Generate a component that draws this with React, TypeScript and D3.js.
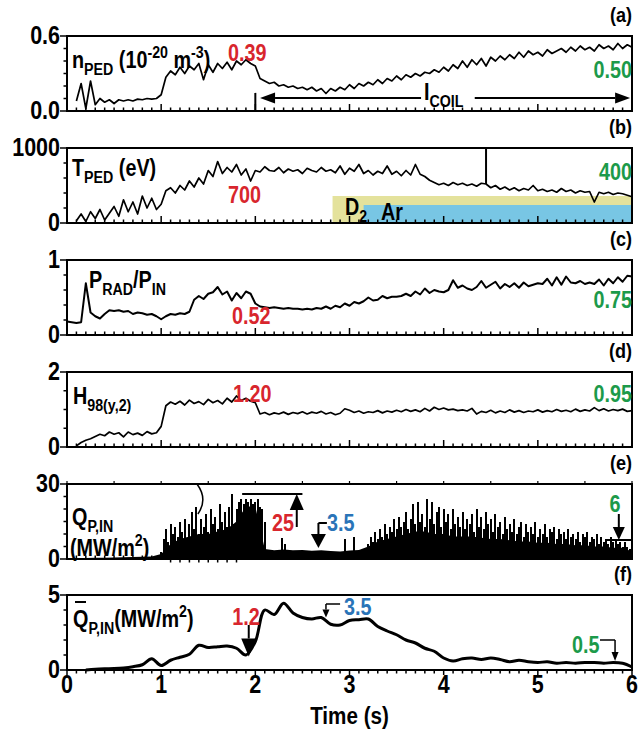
import React from "react";
import * as d3 from "d3";

// ---------------- DATA ----------------
const X_TICKS = [0, 1, 2, 3, 4, 5, 6];
const X_TICK_LABELS = ["0", "1", "2", "3", "4", "5", "6"];
const PANEL_TAGS = ["(a)", "(b)", "(c)", "(d)", "(e)", "(f)"];
const PANEL_Y_MAX = [0.6, 1000, 1, 2, 30, 5];
const PANEL_Y_MINOR = [0.1, 200, 0.2, 0.5, 5, 1];
const PANEL_Y_LABELS = [
  ["0.0", "0.6"],
  ["0", "1000"],
  ["0", "1"],
  ["0", "2"],
  ["0", "30"],
  ["0", "5"],
];

// (a) n_PED, t0 = 0.10, dt = 0.05
const N_PED_T0 = 0.1;
const N_PED_DT = 0.05;
const N_PED = [
  0.08, 0.22, 0.02, 0.24, 0.05, 0.1, 0.07, 0.09, 0.06, 0.09, 0.08, 0.09, 0.08, 0.095, 0.09, 0.1, 0.095, 0.1,
  0.13, 0.27, 0.32, 0.29, 0.35, 0.3, 0.36, 0.33, 0.38, 0.25, 0.37, 0.31, 0.38, 0.34, 0.39, 0.33, 0.4, 0.37, 0.41, 0.38,
  0.36, 0.26, 0.24, 0.22, 0.23, 0.2, 0.21, 0.19, 0.2, 0.18, 0.19, 0.17, 0.19, 0.16, 0.18, 0.14, 0.18, 0.16, 0.19, 0.17,
  0.21, 0.18, 0.22, 0.2, 0.23, 0.21, 0.25, 0.22, 0.26, 0.24, 0.28, 0.25, 0.29, 0.27, 0.3, 0.28, 0.31, 0.3, 0.33, 0.31,
  0.35, 0.32, 0.37, 0.34, 0.4, 0.35, 0.41, 0.37, 0.42, 0.36, 0.43, 0.4, 0.44, 0.41, 0.45, 0.42, 0.47, 0.43, 0.48, 0.45,
  0.47, 0.44, 0.49, 0.46, 0.48, 0.5, 0.47, 0.51, 0.48, 0.52, 0.49, 0.51, 0.48, 0.53, 0.5, 0.52, 0.49, 0.54, 0.5, 0.53,
  0.51,
];
const I_COIL_START = 2.0;
const I_COIL_END = 6.0;
const I_COIL_LEVEL = 0.105;

// (b) T_PED, t0 = 0.10, dt = 0.05
const T_PED_T0 = 0.1;
const T_PED_DT = 0.05;
const T_PED = [
  30, 120, 20, 150, 60, 180, 40, 130, 220, 90, 310, 150, 280, 120, 360, 200, 330, 180,
  250, 430, 470, 400, 500, 440, 560, 480, 600, 520, 700, 620, 820, 660, 740, 680, 780, 640, 720, 560,
  700, 680, 750, 700, 690, 740, 670, 720, 690, 710, 660, 730, 700, 680, 740, 690, 710, 670, 760, 650,
  730, 690, 780, 660, 700, 640, 690, 660, 760, 650, 690, 630, 700, 640, 780, 650, 620, 570, 540, 510,
  530, 500, 540, 510, 530, 500, 520, 490, 530, 520, 470, 500, 450, 480, 440, 470, 430, 460, 440, 500,
  430, 450, 420, 440, 410, 460, 420, 440, 400, 430, 410, 420, 280, 410, 390, 410, 380, 400, 390, 370,
  350,
];
const T_PED_SPIKE_T = 4.45;
const T_PED_SPIKE_V = 1000;
const D2_START = 2.82;
const D2_LEVEL = 360;
const AR_START = 3.15;
const AR_LEVEL = 240;

// (c) P_RAD / P_IN, t0 = 0, dt = 0.05
const PRAD_T0 = 0;
const PRAD_DT = 0.05;
const PRAD = [
  0.18, 0.17, 0.16, 0.17, 0.69, 0.3, 0.25, 0.22, 0.28, 0.33, 0.32, 0.33, 0.31, 0.32, 0.28, 0.3, 0.29, 0.27, 0.28, 0.25,
  0.21, 0.25, 0.28, 0.27, 0.29, 0.28, 0.31, 0.47, 0.52, 0.48, 0.55, 0.57, 0.64, 0.54, 0.58, 0.46, 0.56, 0.49, 0.58, 0.55,
  0.42, 0.38, 0.37, 0.36, 0.37, 0.36, 0.35, 0.36, 0.35, 0.35, 0.34, 0.35, 0.34, 0.36, 0.35, 0.38, 0.35, 0.39, 0.37, 0.42,
  0.39, 0.44, 0.42, 0.45, 0.5, 0.46, 0.47, 0.52, 0.49, 0.51, 0.51, 0.52, 0.55, 0.52, 0.58, 0.54, 0.62, 0.56, 0.6, 0.58,
  0.57, 0.6, 0.73, 0.63, 0.66, 0.62, 0.6, 0.64, 0.72, 0.63, 0.67, 0.71, 0.62, 0.68, 0.64, 0.69, 0.63, 0.7, 0.65, 0.67,
  0.69, 0.68, 0.75, 0.66, 0.77, 0.67, 0.78, 0.7, 0.69, 0.72, 0.68, 0.7, 0.68, 0.74, 0.66, 0.75, 0.69, 0.77, 0.71, 0.79,
  0.78,
];

// (d) H98(y,2), t0 = 0.10, dt = 0.05
const H98_T0 = 0.1;
const H98_DT = 0.05;
const H98 = [
  0.03, 0.12, 0.18, 0.22, 0.28, 0.34, 0.3, 0.4, 0.34, 0.38, 0.27, 0.4, 0.33, 0.37, 0.31, 0.41, 0.35, 0.38,
  0.55, 1.1, 1.2, 1.14, 1.22, 1.12, 1.25, 1.16, 1.21, 1.13, 1.27, 1.18, 1.24, 1.15, 1.3, 1.2, 1.36, 1.24, 1.3, 1.22,
  1.18, 0.88, 0.92, 0.86, 0.91, 0.88, 0.93, 0.87, 0.92, 0.89, 0.94, 0.88, 0.93, 0.9, 0.95, 0.88, 0.92, 0.86, 0.9, 1.02,
  0.98, 0.92, 0.96, 0.9, 0.94, 0.92, 0.97, 0.91, 0.96, 0.93, 0.98, 0.94, 1.0, 0.95, 0.99, 0.94, 1.03, 0.96, 1.06, 1.0,
  1.04, 0.99, 1.01, 0.97, 0.99, 0.96, 1.03, 0.88, 0.95, 0.92, 0.98, 0.91, 0.96, 0.92, 0.99, 0.93, 0.97, 0.92, 0.96, 0.94,
  0.99, 0.93, 0.97, 0.94, 1.0, 0.95, 0.98, 0.94, 1.01, 0.95, 0.99, 0.96, 1.05, 0.97, 1.02, 0.96, 1.0, 0.97, 1.01, 0.95,
  0.97,
];

// (e) Q_P,IN : dense floor (t0 = 0, dt = 0.1) and ELM spikes (dt = 0.025)
const Q_FLOOR_T0 = 0;
const Q_FLOOR_DT = 0.1;
const Q_FLOOR = [
  0.2, 0.3, 0.4, 0.5, 0.5, 0.6, 0.7, 0.8, 0.9, 1.0,
  2, 6, 8, 9, 10, 10, 11, 12, 15, 21,
  21, 4, 3.5, 3.8, 3.5, 3.6, 3.3, 3.5, 3.2, 3.0,
  3.4, 3.6, 5, 7, 8, 9, 10, 11, 11, 10,
  10, 9, 9, 9, 8.5, 8, 8, 7.5, 7, 7,
  6.5, 6.5, 6, 6, 5.5, 5.5, 5, 5, 4.5, 4.5,
  3,
];
const Q_SPIKE_DT = 0.025;
const Q_SPIKES1_T0 = 1.0;
const Q_SPIKES1 = [
  3, 8, 12, 7, 14, 10, 13, 9, 15, 11, 16, 8, 14, 19, 12, 21, 10, 16, 13, 18,
  11, 20, 14, 17, 12, 22, 15, 19, 13, 21, 26, 14, 20, 23, 24, 22, 24, 23, 24, 22,
  23, 24, 21, 20, 15,
];
const Q_SPIKES2_T0 = 3.2;
const Q_SPIKES2 = [
  6, 9, 7, 11, 8, 12, 9, 14, 10, 13, 11, 16, 12, 17, 13, 15, 19, 12, 16, 22,
  14, 23, 15, 18, 13, 24, 16, 23, 14, 19, 21, 13, 20, 15, 18, 12, 20, 14, 17, 13,
  19, 12, 16, 14, 18, 11, 20, 13, 17, 12, 19, 14, 16, 11, 18, 13, 15, 10, 17, 12,
  14, 11, 16, 10, 13, 15, 9, 14, 11, 13, 10, 15, 9, 12, 10, 14, 9, 12, 11, 13,
  8, 12, 10, 11, 8, 12, 9, 10, 8, 11, 7, 10, 9, 11, 7, 9, 8, 10, 6, 9,
  7, 8, 6, 9, 7, 8, 6, 7, 5, 7, 5, 4,
];
const Q_BUMP_T = [2.28, 2.31, 2.95, 3.05];
const Q_BUMP_V = [8.5, 6, 8, 9];

// (f) Q-bar_P,IN, t0 = 0.2, dt = 0.1
const QBAR_T0 = 0.2;
const QBAR_DT = 0.1;
const QBAR = [
  0.0, 0.05, 0.08, 0.1, 0.14, 0.22, 0.35, 0.75, 0.3, 0.65, 0.85, 1.05, 1.65, 1.5, 1.55, 1.6, 1.45, 1.0, 1.9, 4.0,
  3.7, 4.45, 3.8, 3.5, 3.4, 3.5, 3.05, 3.0, 3.3, 3.35, 3.4, 2.9, 2.6, 2.35, 2.0, 1.8, 1.45, 1.25, 0.8, 0.6,
  0.75, 0.8, 0.7, 0.8, 0.7, 0.55, 0.65, 0.55, 0.5, 0.55, 0.45, 0.5, 0.45, 0.5, 0.5, 0.45, 0.5, 0.45, 0.2,
];

// annotation values
const ANN_A = ["0.39", "0.50"];
const ANN_B = ["700", "400"];
const ANN_C = ["0.52", "0.75"];
const ANN_D = ["1.20", "0.95"];
const ANN_E = ["25", "3.5", "6"];
const ANN_F = ["1.2", "3.5", "0.5"];

// ---------------- STYLE / LAYOUT ----------------
const FONT = "'Liberation Sans','Arial',sans-serif";
const SX = 0.86;
const RED = "#d8262d";
const GREEN = "#1c9a4a";
const BLUE = "#2a74b8";
const YELLOW = "#e4e29c";
const CYAN = "#78c6e4";
const X_LEFT = 67;
const X_RIGHT = 632;
const PANEL_TOPS = [36, 148, 260, 372, 484, 595];
const PANEL_H = 75;
const FS = 23;

type Seg = { t: string; s?: "sub" | "sup" };

function Rich({ x, y, segs, size = FS, fill = "#000", anchor = "start", subScale = 0.72 }: any) {
  let cur = 0;
  return (
    <text
      transform={`translate(${x},${y}) scale(${SX},1)`}
      x={0}
      y={0}
      fontSize={size}
      fontFamily={FONT}
      fontWeight="bold"
      fill={fill}
      textAnchor={anchor}
    >
      {segs.map((sg: Seg, i: number) => {
        const off = sg.s === "sub" ? 0.3 * size : sg.s === "sup" ? -0.42 * size : 0;
        const dy = off - cur;
        cur = off;
        return (
          <tspan key={i} dy={dy} fontSize={sg.s ? size * subScale : size}>
            {sg.t}
          </tspan>
        );
      })}
    </text>
  );
}

function Arrow({ x1, y1, x2, y2, hw = 8, hl = 12, sw = 2 }: any) {
  const dx = x2 - x1;
  const dy = y2 - y1;
  const len = Math.sqrt(dx * dx + dy * dy) || 1;
  const ux = dx / len;
  const uy = dy / len;
  const bx = x2 - ux * hl;
  const by = y2 - uy * hl;
  const px = -uy;
  const py = ux;
  return (
    <g>
      <line x1={x1} y1={y1} x2={bx} y2={by} stroke="#000" strokeWidth={sw} />
      <polygon
        points={`${x2},${y2} ${bx + (px * hw) / 2},${by + (py * hw) / 2} ${bx - (px * hw) / 2},${by - (py * hw) / 2}`}
        fill="#000"
      />
    </g>
  );
}

function pts(t0: number, dt: number, vals: number[]): [number, number][] {
  return vals.map((v, i) => [t0 + i * dt, v]);
}

export default function App() {
  const x = d3.scaleLinear().domain([0, 6]).range([X_LEFT, X_RIGHT]);
  const ys = PANEL_TOPS.map((top, i) =>
    d3.scaleLinear().domain([0, PANEL_Y_MAX[i]]).range([top + PANEL_H, top])
  );
  const lineFor = (y: any, curve: any = d3.curveLinear) =>
    d3
      .line<[number, number]>()
      .x((d) => x(d[0]))
      .y((d) => y(d[1]))
      .curve(curve);

  const [ya, yb, yc, yd, ye, yf] = ys;
  const minorT = d3.range(0, 61).map((k) => k / 10);

  const tpedPts = pts(T_PED_T0, T_PED_DT, T_PED);
  const spikeIdx = d3.bisector((d: [number, number]) => d[0]).center(tpedPts, T_PED_SPIKE_T);
  const spikeBase = tpedPts[spikeIdx][1];

  const qFloor = pts(Q_FLOOR_T0, Q_FLOOR_DT, Q_FLOOR);
  const qArea = d3
    .area<[number, number]>()
    .x((d) => x(d[0]))
    .y0(ye(0))
    .y1((d) => ye(d[1]));
  const spikes = [
    ...pts(Q_SPIKES1_T0, Q_SPIKE_DT, Q_SPIKES1),
    ...pts(Q_SPIKES2_T0, Q_SPIKE_DT, Q_SPIKES2),
    ...Q_BUMP_T.map((t, i) => [t, Q_BUMP_V[i]] as [number, number]),
  ];

  const axisText = (props: any, s: string, size = FS) => (
    <text
      transform={`translate(${props.x},${props.y}) scale(${SX},1)`}
      textAnchor={props.anchor}
      fontSize={size}
      fontWeight="bold"
      fontFamily={FONT}
    >
      {s}
    </text>
  );

  return (
    <svg width={644} height={737} style={{ position: "absolute", left: 0, top: 0, background: "#fff" }} fontFamily={FONT}>
      <rect x={0} y={0} width={644} height={737} fill="#fff" />

      {/* Panel (b) gas bands */}
      <rect x={x(D2_START)} y={yb(D2_LEVEL)} width={x(6) - x(D2_START)} height={yb(0) - yb(D2_LEVEL)} fill={YELLOW} />
      <rect x={x(AR_START)} y={yb(AR_LEVEL)} width={x(6) - x(AR_START)} height={yb(0) - yb(AR_LEVEL)} fill={CYAN} />

      {/* Data lines */}
      <path d={lineFor(ya)(pts(N_PED_T0, N_PED_DT, N_PED)) || ""} fill="none" stroke="#000" strokeWidth={1.7} strokeLinejoin="round" />
      <path d={lineFor(yb)(tpedPts) || ""} fill="none" stroke="#000" strokeWidth={1.7} strokeLinejoin="round" />
      <line x1={x(T_PED_SPIKE_T)} x2={x(T_PED_SPIKE_T)} y1={yb(spikeBase)} y2={yb(T_PED_SPIKE_V)} stroke="#000" strokeWidth={2} />
      <path d={lineFor(yc)(pts(PRAD_T0, PRAD_DT, PRAD)) || ""} fill="none" stroke="#000" strokeWidth={2} strokeLinejoin="round" />
      <path d={lineFor(yd)(pts(H98_T0, H98_DT, H98)) || ""} fill="none" stroke="#000" strokeWidth={1.7} strokeLinejoin="round" />
      <path d={qArea(qFloor) || ""} fill="#000" />
      <g shapeRendering="crispEdges">
        {spikes.map((d, i) => (
          <line key={i} x1={x(d[0])} x2={x(d[0])} y1={ye(0)} y2={ye(d[1])} stroke="#000" strokeWidth={2} />
        ))}
      </g>
      <path
        d={lineFor(yf, d3.curveCatmullRom)(pts(QBAR_T0, QBAR_DT, QBAR)) || ""}
        fill="none"
        stroke="#000"
        strokeWidth={3}
        strokeLinejoin="round"
      />

      {/* Frames, ticks, labels */}
      {PANEL_TOPS.map((top, i) => {
        const y = ys[i];
        const bottom = top + PANEL_H;
        const yT = d3.range(0, PANEL_Y_MAX[i] + PANEL_Y_MINOR[i] / 2, PANEL_Y_MINOR[i]);
        const tickDown = i === 5;
        return (
          <g key={i}>
            <rect x={X_LEFT} y={top} width={X_RIGHT - X_LEFT} height={PANEL_H} fill="none" stroke="#000" strokeWidth={2} />
            {minorT.map((t, k) => {
              const major = k % 10 === 0;
              const len = major ? 7 : 3.5;
              const down = tickDown || (i === 4 && t > 1.05 && t < 1.85);
              return (
                <line
                  key={k}
                  x1={x(t)}
                  x2={x(t)}
                  y1={bottom}
                  y2={down ? bottom + (major ? 5 : 3.5) : bottom - len}
                  stroke="#000"
                  strokeWidth={1.5}
                />
              );
            })}
            {i === 4 &&
              d3.range(0, 6.01, 0.5).map((t, k) => (
                <line key={"tt" + k} x1={x(t)} x2={x(t)} y1={top} y2={top - 3} stroke="#000" strokeWidth={1.2} />
              ))}
            {yT.map((v, k) => {
              const end = k === 0 || k === yT.length - 1;
              return (
                <line key={"y" + k} x1={X_LEFT} x2={X_LEFT - (end ? 7 : 3.5)} y1={y(v)} y2={y(v)} stroke="#000" strokeWidth={1.5} />
              );
            })}
            {axisText({ x: 60, y: bottom + 8, anchor: "end" }, PANEL_Y_LABELS[i][0], 25)}
            {axisText({ x: 60, y: top + 8, anchor: "end" }, PANEL_Y_LABELS[i][1], 25)}
            {axisText({ x: X_RIGHT, y: top - 14, anchor: "end" }, PANEL_TAGS[i], 21)}
          </g>
        );
      })}

      {/* X axis labels */}
      {X_TICKS.map((t, i) => (
        <g key={i}>{axisText({ x: x(t), y: 693, anchor: "middle" }, X_TICK_LABELS[i], 25)}</g>
      ))}
      {axisText({ x: (X_LEFT + X_RIGHT) / 2, y: 724, anchor: "middle" }, "Time (s)", 24)}

      {/* ---- Panel (a) annotations ---- */}
      <Rich
        x={72}
        y={68}
        segs={[{ t: "n" }, { t: "PED", s: "sub" }, { t: " (10" }, { t: "-20", s: "sup" }, { t: " m" }, { t: "-3", s: "sup" }, { t: ")" }]}
      />
      <Rich x={228} y={61} segs={[{ t: ANN_A[0] }]} fill={RED} />
      <Rich x={X_RIGHT} y={78} segs={[{ t: ANN_A[1] }]} fill={GREEN} anchor="end" />
      <line x1={x(I_COIL_START)} x2={x(I_COIL_START)} y1={ya(0)} y2={ya(I_COIL_LEVEL + 0.04)} stroke="#000" strokeWidth={2} />
      <Arrow x1={x(3.76)} y1={ya(I_COIL_LEVEL)} x2={x(I_COIL_START + 0.05)} y2={ya(I_COIL_LEVEL)} hw={11} hl={15} sw={2} />
      <Arrow x1={x(4.33)} y1={ya(I_COIL_LEVEL)} x2={x(I_COIL_END - 0.02)} y2={ya(I_COIL_LEVEL)} hw={11} hl={15} sw={2} />
      <Rich x={424} y={100} segs={[{ t: "I" }, { t: "COIL", s: "sub" }]} />

      {/* ---- Panel (b) annotations ---- */}
      <Rich x={72} y={176} segs={[{ t: "T" }, { t: "PED", s: "sub" }, { t: " (eV)" }]} />
      <Rich x={228} y={203} segs={[{ t: ANN_B[0] }]} fill={RED} />
      <Rich x={X_RIGHT} y={180} segs={[{ t: ANN_B[1] }]} fill={GREEN} anchor="end" />
      <Rich x={345} y={215} segs={[{ t: "D" }, { t: "2", s: "sub" }]} />
      <Rich x={381} y={220} segs={[{ t: "Ar" }]} />

      {/* ---- Panel (c) annotations ---- */}
      <Rich x={89} y={288} segs={[{ t: "P" }, { t: "RAD", s: "sub" }, { t: "/P" }, { t: "IN", s: "sub" }]} />
      <Rich x={232} y={324} segs={[{ t: ANN_C[0] }]} fill={RED} />
      <Rich x={X_RIGHT} y={308} segs={[{ t: ANN_C[1] }]} fill={GREEN} anchor="end" />

      {/* ---- Panel (d) annotations ---- */}
      <Rich x={73} y={404} segs={[{ t: "H" }, { t: "98(y,2)", s: "sub" }]} />
      <Rich x={233} y={402} segs={[{ t: ANN_D[0] }]} fill={RED} />
      <Rich x={X_RIGHT} y={402} segs={[{ t: ANN_D[1] }]} fill={GREEN} anchor="end" />

      {/* ---- Panel (e) annotations ---- */}
      <Rich x={72} y={525} segs={[{ t: "Q" }, { t: "P,IN", s: "sub" }]} />
      <Rich x={70} y={556} segs={[{ t: "(MW/m" }, { t: "2", s: "sup" }, { t: ")" }]} />
      <path d={`M${x(1.38)},${ye(30)} Q${x(1.5)},${ye(24)} ${x(1.39)},${ye(18)}`} fill="none" stroke="#000" strokeWidth={1.5} />
      <line x1={x(1.86)} x2={x(2.5)} y1={ye(26)} y2={ye(26)} stroke="#000" strokeWidth={2} />
      <Arrow x1={x(2.44)} y1={ye(12.8)} x2={x(2.44)} y2={ye(26)} hw={14} hl={16} sw={2} />
      <Rich x={272} y={531} segs={[{ t: ANN_E[0] }]} fill={RED} />
      <polyline points={`${x(2.76)},${ye(14.4)} ${x(2.67)},${ye(14.4)}`} fill="none" stroke="#000" strokeWidth={2} />
      <Arrow x1={x(2.67)} y1={ye(14.4)} x2={x(2.67)} y2={ye(4.4)} hw={15} hl={14} sw={2} />
      <Rich x={327} y={531} segs={[{ t: ANN_E[1] }]} fill={BLUE} />
      <line x1={x(5.72)} x2={x(6)} y1={ye(7.6)} y2={ye(7.6)} stroke="#000" strokeWidth={2} />
      <Arrow x1={x(5.86)} y1={ye(18)} x2={x(5.86)} y2={ye(7.6)} hw={12} hl={13} sw={2} />
      <Rich x={x(5.82)} y={512} segs={[{ t: ANN_E[2] }]} fill={GREEN} anchor="middle" />

      {/* ---- Panel (f) annotations ---- */}
      <Rich x={73} y={627} segs={[{ t: "Q" }, { t: "P,IN", s: "sub" }, { t: "(MW/m" }, { t: "2", s: "sup" }, { t: ")" }]} />
      <line x1={75} x2={86} y1={602} y2={602} stroke="#000" strokeWidth={2} />
      <Rich x={x(1.9)} y={625} segs={[{ t: ANN_F[0] }]} fill={RED} anchor="middle" />
      <Arrow x1={x(1.93)} y1={yf(3.0)} x2={x(1.93)} y2={yf(0.9)} hw={15} hl={18} sw={2} />
      <polyline points={`${x(2.9)},${yf(4.4)} ${x(2.75)},${yf(4.4)}`} fill="none" stroke="#000" strokeWidth={1.5} />
      <Arrow x1={x(2.75)} y1={yf(4.4)} x2={x(2.75)} y2={yf(3.5)} hw={7} hl={8} sw={1.5} />
      <Rich x={344} y={615} segs={[{ t: ANN_F[1] }]} fill={BLUE} />
      <polyline points={`${x(5.66)},${yf(2.0)} ${x(5.82)},${yf(2.0)}`} fill="none" stroke="#000" strokeWidth={1.5} />
      <Arrow x1={x(5.82)} y1={yf(2.0)} x2={x(5.82)} y2={yf(0.6)} hw={7} hl={9} sw={1.5} />
      <Rich x={572} y={653} segs={[{ t: ANN_F[2] }]} fill={GREEN} />
    </svg>
  );
}
